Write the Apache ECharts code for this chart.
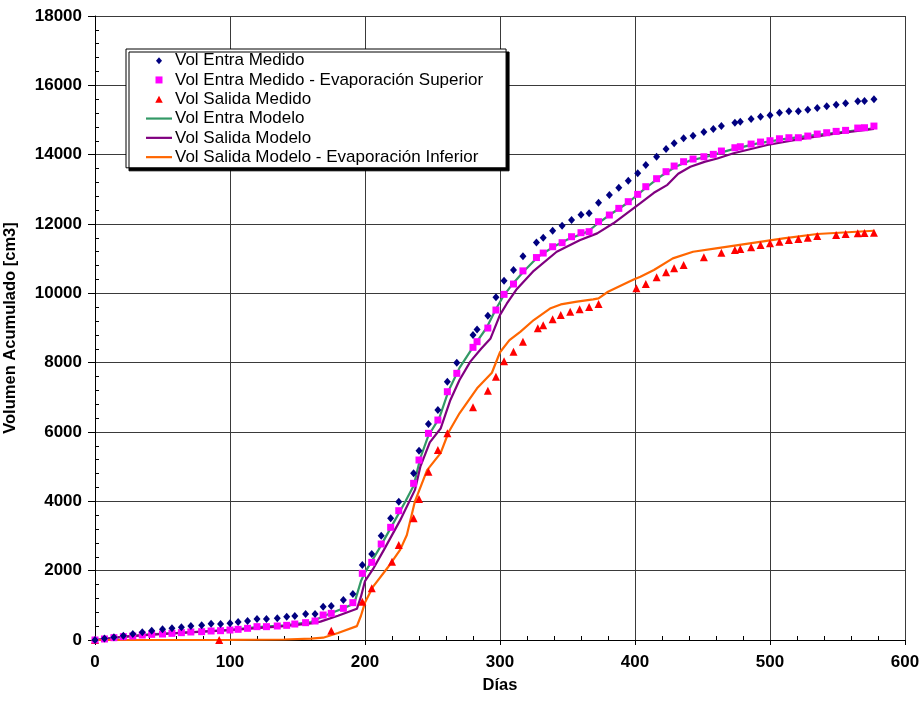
<!DOCTYPE html>
<html>
<head>
<meta charset="utf-8">
<script src="https://cdn.jsdelivr.net/npm/echarts@6/dist/echarts.min.js"></script>
<style>
html,body{margin:0;padding:0;background:#fff;}
#chart{width:922px;height:705px;}
</style>
</head>
<body>
<div id="chart"></div>
<script>
// ---- Data ----
const xTicks = [0, 100, 200, 300, 400, 500, 600];
const yTicks = [0, 2000, 4000, 6000, 8000, 10000, 12000, 14000, 16000, 18000];

const seriesNames = [
  'Vol Entra Medido',
  'Vol Entra Medido - Evaporación Superior',
  'Vol Salida Medido',
  'Vol Entra Modelo',
  'Vol Salida Modelo',
  'Vol Salida Modelo - Evaporación Inferior'
];

// Vol Entra Medido (diamonds)
const entraMedDays = [0,7,14,21,28,35,42,50,57,64,71,79,86,93,100,106,113,120,127,135,142,148,156,163,169,175,184,191,198,205,212,219,225,236,240,247,254,261,268,280,283,291,297,303,310,317,327,332,339,346,353,360,366,373,381,388,395,402,408,416,423,429,436,443,451,458,464,474,478,486,493,500,507,514,521,528,535,542,549,556,565,570,577];
const entraMedVals = [0,40,80,124,173,221,269,308,337,366,404,423,470,462,481,519,548,606,606,625,673,692,750,750,962,981,1154,1327,2163,2480,3010,3510,3990,4808,5460,6230,6634,7450,8000,8797,8960,9354,9885,10364,10672,11070,11465,11605,11807,11951,12115,12268,12307,12614,12836,13047,13249,13461,13700,13940,14162,14326,14470,14546,14652,14738,14825,14921,14950,15028,15094,15135,15210,15250,15250,15297,15345,15394,15440,15480,15538,15547,15596];

// Vol Entra Medido - Evaporación Superior (squares)
const entraEvapDays = [0,7,14,21,28,35,42,50,57,64,71,79,86,93,100,106,113,120,127,135,142,148,156,163,169,175,184,191,198,205,212,219,225,236,240,247,254,261,268,280,283,291,297,303,310,317,327,332,339,346,353,360,366,373,381,388,395,402,408,416,423,429,436,443,451,458,464,474,478,486,493,500,507,514,521,528,535,542,549,556,565,570,577];
const entraEvapVals = [0,29,67,96,115,144,163,173,192,212,231,240,260,269,288,308,337,385,385,404,423,461,500,548,721,769,913,1077,1923,2240,2769,3250,3730,4519,5192,5961,6345,7162,7692,8442,8605,8999,9518,9971,10268,10648,11032,11162,11344,11461,11633,11749,11778,12066,12259,12451,12644,12856,13076,13307,13509,13672,13797,13874,13940,14009,14105,14200,14229,14306,14364,14402,14459,14489,14489,14537,14595,14633,14672,14701,14768,14777,14825];

// Vol Salida Medido (triangles)
const salidaMedDays = [0,92,175,198,205,220,225,236,240,247,254,261,280,291,297,303,310,317,328,332,339,345,352,359,366,373,401,408,416,423,429,436,451,464,474,478,486,493,500,507,514,521,528,535,549,556,565,570,577];
const salidaMedVals = [0,0,269,1106,1490,2259,2740,3510,4067,4855,5480,5961,6711,7191,7596,8038,8316,8600,8990,9080,9250,9374,9469,9538,9605,9691,10144,10268,10461,10605,10721,10816,11038,11171,11249,11278,11327,11393,11442,11488,11537,11566,11603,11653,11682,11711,11730,11740,11749];

// Vol Entra Modelo (green line)
const entraModDays = [0,20,40,60,80,100,120,140,160,170,185,192,197,200,210,220,230,236,241,247,255,262,270,280,290,297,303,310,318,328,340,350,365,372,380,395,408,420,430,440,455,470,490,510,530,550,577];
const entraModVals = [0,90,160,200,245,290,370,420,520,700,930,1050,1700,1950,2600,3300,4000,4450,5250,5900,6400,7200,7850,8450,9000,9550,9950,10300,10650,11050,11350,11550,11780,12000,12230,12620,13040,13400,13650,13820,13960,14130,14320,14450,14550,14640,14760];

// Vol Salida Modelo (purple line)
const salidaModDays = [0,20,40,60,80,100,120,140,160,167,180,194,197,200,206,214,226,237,241,248,256,263,270,278,286,293,300,305,312,325,342,359,372,384,404,414,424,432,441,452,461,473,498,522,547,577];
const salidaModVals = [0,90,150,200,240,285,340,400,480,529,700,900,1250,1700,2050,2600,3450,4330,5000,5700,6100,6900,7500,8030,8400,8700,9380,9700,10100,10650,11200,11530,11730,12020,12600,12900,13130,13450,13650,13800,13890,14040,14280,14450,14600,14740];

// Vol Salida Modelo - Evaporación Inferior (orange line)
const salidaEvapDays = [0,50,100,140,160,169,180,194,197,200,206,218,226,231,237,246,256,262,270,283,294,300,307,315,325,337,345,357,369,373,380,399,404,414,428,443,460,485,510,535,577];
const salidaEvapVals = [0,0,5,15,40,67,200,400,700,1080,1540,2150,2600,3030,4000,4900,5390,6000,6540,7260,7710,8300,8650,8890,9230,9560,9680,9760,9827,9856,10046,10400,10479,10672,11009,11200,11298,11442,11586,11711,11806];

const zip = (xs, ys) => xs.map((x, i) => [x, ys[i]]);

const FONT = 'Liberation Sans, Arial, sans-serif';
const chart = echarts.init(document.getElementById('chart'), null, {renderer: 'canvas'});

const gridColor = '#3a3a3a';
const C = {
  entraMed: '#000080', entraEvap: '#FF00FF', salidaMed: '#FF0000',
  entraMod: '#339966', salidaMod: '#800080', salidaEvap: '#FF6600'
};
const LINE_ICON = 'path://M0,0H26V2.2H0Z';
const DIAMOND_ICON = 'path://M3,0L6,3.5L3,7L0,3.5Z';
const RECT_ICON = 'path://M0,0H6.5V6.5H0Z';
const TRI_ICON = 'path://M3.5,0L7,6.5H0Z';

const option = {
  backgroundColor: '#ffffff',
  animation: false,
  grid: {left: 95, right: 17, top: 16, bottom: 65, containLabel: false, outerBoundsMode: 'none'},
  legend: {
    orient: 'vertical',
    left: 126,
    top: 49,
    padding: [2, 23, 1, 20],
    itemGap: 0,
    itemWidth: 26,
    itemHeight: 7,
    symbolKeepAspect: true,
    backgroundColor: '#ffffff',
    borderColor: '#000000',
    borderWidth: 1,
    shadowColor: '#000000',
    shadowBlur: 0,
    shadowOffsetX: 3,
    shadowOffsetY: 3,
    selectedMode: false,
    textStyle: {fontFamily: FONT, fontSize: 17, color: '#000', lineHeight: 19.3, padding: [0, 0, 0, -2]},
    data: [
      {name: seriesNames[0], icon: DIAMOND_ICON, itemStyle: {color: C.entraMed}},
      {name: seriesNames[1], icon: RECT_ICON, itemStyle: {color: C.entraEvap}},
      {name: seriesNames[2], icon: TRI_ICON, itemStyle: {color: C.salidaMed}},
      {name: seriesNames[3], icon: LINE_ICON, itemStyle: {color: C.entraMod}},
      {name: seriesNames[4], icon: LINE_ICON, itemStyle: {color: C.salidaMod}},
      {name: seriesNames[5], icon: LINE_ICON, itemStyle: {color: C.salidaEvap}}
    ]
  },
  xAxis: [
    {
      type: 'value', min: xTicks[0], max: xTicks[xTicks.length - 1], interval: 100,
      axisLine: {show: true, onZero: false, lineStyle: {color: '#000', width: 1}},
      axisTick: {show: true, inside: false, length: 5, lineStyle: {color: '#000'}},
      minorTick: {show: false},
      axisLabel: {margin: 14, color: '#000', fontFamily: FONT, fontSize: 17, fontWeight: 'bold',
                  formatter: v => String(v)},
      splitLine: {show: true, lineStyle: {color: gridColor, width: 1}},
      name: 'Días', nameLocation: 'middle', nameGap: 37,
      nameTextStyle: {fontFamily: FONT, fontSize: 16.5, fontWeight: 'bold', color: '#000'}
    },
    {
      type: 'value', min: xTicks[0], max: xTicks[xTicks.length - 1], interval: 100, position: 'bottom',
      axisLine: {show: false},
      axisTick: {show: false, inside: true},
      minorTick: {show: true, splitNumber: 5, length: 4, lineStyle: {color: '#000', width: 1}},
      axisLabel: {show: false},
      splitLine: {show: false}
    }
  ],
  yAxis: [
    {
      type: 'value', min: yTicks[0], max: yTicks[yTicks.length - 1], interval: 2000,
      axisLine: {show: true, onZero: false, lineStyle: {color: '#000', width: 1}},
      axisTick: {show: true, inside: false, length: 7, lineStyle: {color: '#000'}},
      axisLabel: {margin: 13, color: '#000', fontFamily: FONT, fontSize: 17, fontWeight: 'bold',
                  formatter: v => String(v)},
      splitLine: {show: true, lineStyle: {color: gridColor, width: 1}},
      name: 'Volumen Acumulado [cm3]', nameLocation: 'middle', nameGap: 76,
      nameTextStyle: {fontFamily: FONT, fontSize: 16.5, fontWeight: 'bold', color: '#000'}
    },
    {
      type: 'value', min: yTicks[0], max: yTicks[yTicks.length - 1], interval: 2000, position: 'left',
      axisLine: {show: false},
      axisTick: {show: false, inside: true},
      minorTick: {show: true, splitNumber: 5, length: 4, lineStyle: {color: '#000', width: 1}},
      axisLabel: {show: false},
      splitLine: {show: false}
    }
  ],
  series: [
    {
      name: seriesNames[3], type: 'line', data: zip(entraModDays, entraModVals),
      symbol: 'none', z: 2, color: C.entraMod,
      lineStyle: {color: C.entraMod, width: 2.2}
    },
    {
      name: seriesNames[4], type: 'line', data: zip(salidaModDays, salidaModVals),
      symbol: 'none', z: 2, color: C.salidaMod,
      lineStyle: {color: C.salidaMod, width: 2.2}
    },
    {
      name: seriesNames[5], type: 'line', data: zip(salidaEvapDays, salidaEvapVals),
      symbol: 'none', z: 2, color: C.salidaEvap,
      lineStyle: {color: C.salidaEvap, width: 2.2}
    },
    {
      name: seriesNames[2], type: 'scatter', data: zip(salidaMedDays, salidaMedVals),
      symbol: 'triangle', symbolSize: [8, 8], z: 3,
      itemStyle: {color: C.salidaMed, opacity: 1}
    },
    {
      name: seriesNames[1], type: 'scatter', data: zip(entraEvapDays, entraEvapVals),
      symbol: 'rect', symbolSize: 7, z: 3,
      itemStyle: {color: C.entraEvap, opacity: 1}
    },
    {
      name: seriesNames[0], type: 'scatter', data: zip(entraMedDays, entraMedVals),
      symbol: 'diamond', symbolSize: [7, 8], z: 4,
      itemStyle: {color: C.entraMed, opacity: 1}
    }
  ]
};
chart.setOption(option);
</script>
</body>
</html>
